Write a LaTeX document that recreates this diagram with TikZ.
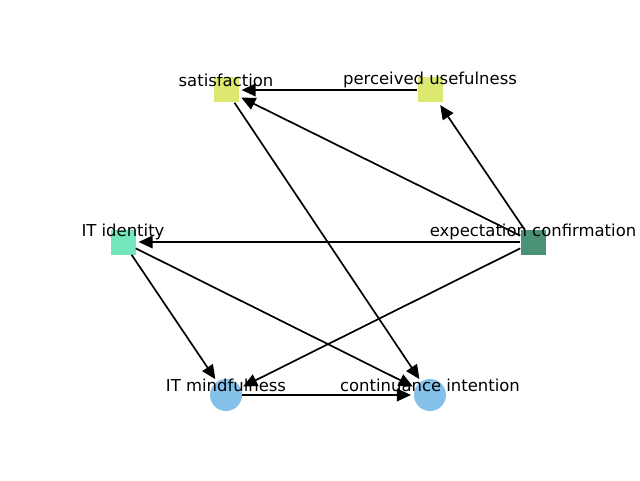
\documentclass[tikz,border=0pt]{standalone}
\usepackage{fontspec}
\setmainfont{DejaVu Sans}
\usepackage{tikz}
\usetikzlibrary{
	shapes.geometric,
	arrows.meta,
	positioning,
	calc
}
\definecolor{lime}{RGB}{221,232,113}
\definecolor{mint}{RGB}{115,231,187}
\definecolor{pine}{RGB}{74,145,117}
\definecolor{sky}{RGB}{133,192,233}

\begin{document}
\begin{tikzpicture}[
					sqbox/.style={
					rectangle, draw=none, inner sep=0pt,
					minimum width=0.625cm, minimum height=0.625cm
				},
				limebox/.style={
					sqbox, fill=lime
				},
				mintbox/.style={
					sqbox, fill=mint
				},
				pinebox/.style={
					sqbox, fill=pine
				},
				skydot/.style={
					circle, draw=none, fill=sky, inner sep=0pt,
					minimum size=0.8cm
				},
				lbl/.style={
					inner sep=0pt, yshift=0.24cm,
					font=\fontsize{11.7}{14}\selectfont
				},
				arrow/.style={-{Triangle[length=10pt,width=9pt]}, line width=1.2pt, shorten >=2pt},
				]
				\useasboundingbox (0,0) rectangle (16,12);
				
				%upper row
				\node[limebox] (sat) at (5.65,9.75) {};
				\node[limebox] (pu) at (10.75,9.75) {};
				
				%middle row
				\node[mintbox] (iti) at (3.075,5.95) {};
				\node[pinebox] (ec) at (13.325,5.95) {};
				
				%lower row
				\node[skydot] (itm) at (5.65,2.125) {};
				\node[skydot] (ci) at (10.75,2.125) {};
				
				%edges
				\draw[arrow] (pu) -- (sat);
				\draw[arrow] (ec) -- (pu);
				\draw[arrow] (ec) -- (sat);
				\draw[arrow] (ec) -- (iti);
				\draw[arrow] (ec) -- (itm);
				\draw[arrow] (sat) -- (ci);
				\draw[arrow] (iti) -- (itm);
				\draw[arrow] (iti) -- (ci);
				\draw[arrow] (itm) -- (ci);
				
				%labels
				\node[lbl] (sat-l) at (sat) {satisfaction};
				\node[lbl] (pu-l) at (pu) {perceived usefulness};
				\node[lbl] (iti-l) at (iti) {IT identity};
				\node[lbl] (ec-l) at (ec) {expectation confirmation};
				\node[lbl] (itm-l) at (itm) {IT mindfulness};
				\node[lbl] (ci-l) at (ci) {continuance intention};
			\end{tikzpicture}
\end{document}
